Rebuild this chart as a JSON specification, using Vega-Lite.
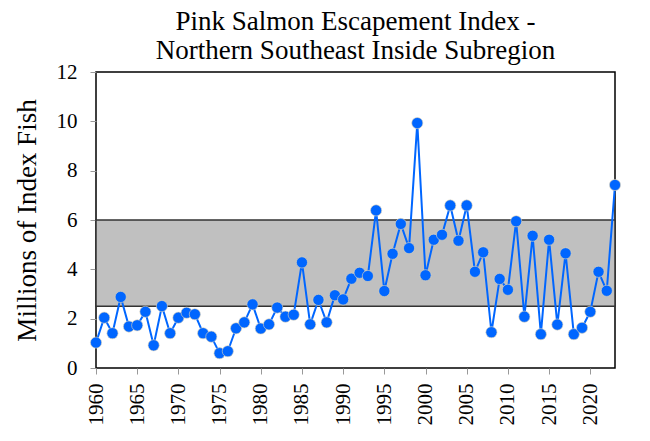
{
  "$schema": "https://vega.github.io/schema/vega-lite/v6.json",
  "width": 519,
  "height": 296,
  "autosize": {"type": "none"},
  "padding": {"left": 96, "top": 72, "right": 35, "bottom": 73},
  "background": "white",
  "config": {
    "font": "Liberation Serif",
    "view": {"stroke": "black", "strokeWidth": 1.5},
    "axis": {"grid": false, "domain": false, "tickColor": "#999999", "tickSize": 6, "labelColor": "black", "titleColor": "black", "labelFont": "Liberation Serif", "titleFont": "Liberation Serif", "titleFontWeight": "normal"}
  },
  "title": {
    "text": ["Pink Salmon Escapement Index -", "Northern Southeast Inside Subregion"],
    "font": "Liberation Serif",
    "fontSize": 27,
    "fontWeight": "normal",
    "lineHeight": 29,
    "anchor": "middle",
    "color": "black",
    "offset": 0,
    "dy": 4
  },
  "datasets": {
    "band": [{"start": 1960, "end": 2023, "lo": 2.5, "hi": 6}],
    "escapement": [
      {"year": 1960, "value": 1.03},
      {"year": 1961, "value": 2.04},
      {"year": 1962, "value": 1.41},
      {"year": 1963, "value": 2.88},
      {"year": 1964, "value": 1.68},
      {"year": 1965, "value": 1.73},
      {"year": 1966, "value": 2.28},
      {"year": 1967, "value": 0.92},
      {"year": 1968, "value": 2.51},
      {"year": 1969, "value": 1.41},
      {"year": 1970, "value": 2.04},
      {"year": 1971, "value": 2.24},
      {"year": 1972, "value": 2.18},
      {"year": 1973, "value": 1.41},
      {"year": 1974, "value": 1.27},
      {"year": 1975, "value": 0.6},
      {"year": 1976, "value": 0.68},
      {"year": 1977, "value": 1.61},
      {"year": 1978, "value": 1.85},
      {"year": 1979, "value": 2.58},
      {"year": 1980, "value": 1.6},
      {"year": 1981, "value": 1.77},
      {"year": 1982, "value": 2.45},
      {"year": 1983, "value": 2.08},
      {"year": 1984, "value": 2.16},
      {"year": 1985, "value": 4.28},
      {"year": 1986, "value": 1.77},
      {"year": 1987, "value": 2.76},
      {"year": 1988, "value": 1.85},
      {"year": 1989, "value": 2.95},
      {"year": 1990, "value": 2.78},
      {"year": 1991, "value": 3.62},
      {"year": 1992, "value": 3.86},
      {"year": 1993, "value": 3.73},
      {"year": 1994, "value": 6.39},
      {"year": 1995, "value": 3.12},
      {"year": 1996, "value": 4.63},
      {"year": 1997, "value": 5.84},
      {"year": 1998, "value": 4.86},
      {"year": 1999, "value": 9.93},
      {"year": 2000, "value": 3.76},
      {"year": 2001, "value": 5.2},
      {"year": 2002, "value": 5.4},
      {"year": 2003, "value": 6.59},
      {"year": 2004, "value": 5.16},
      {"year": 2005, "value": 6.59},
      {"year": 2006, "value": 3.9},
      {"year": 2007, "value": 4.69},
      {"year": 2008, "value": 1.45},
      {"year": 2009, "value": 3.61},
      {"year": 2010, "value": 3.17},
      {"year": 2011, "value": 5.95},
      {"year": 2012, "value": 2.08},
      {"year": 2013, "value": 5.36},
      {"year": 2014, "value": 1.37},
      {"year": 2015, "value": 5.2},
      {"year": 2016, "value": 1.76},
      {"year": 2017, "value": 4.65},
      {"year": 2018, "value": 1.37},
      {"year": 2019, "value": 1.63},
      {"year": 2020, "value": 2.28},
      {"year": 2021, "value": 3.9},
      {"year": 2022, "value": 3.13},
      {"year": 2023, "value": 7.42}
    ]
  },
  "layer": [
    {
      "data": {"name": "band"},
      "mark": {"type": "rect", "fill": "#c0c0c0", "stroke": "#333333", "strokeWidth": 1.5},
      "encoding": {
        "x": {"field": "start", "type": "quantitative", "scale": {"domain": [1960, 2023], "nice": false, "zero": false}},
        "x2": {"field": "end"},
        "y": {"field": "lo", "type": "quantitative", "scale": {"domain": [0, 12], "nice": false}},
        "y2": {"field": "hi"}
      }
    },
    {
      "data": {"name": "escapement"},
      "mark": {"type": "line", "color": "#0066ff", "strokeWidth": 2,
               "point": {"filled": true, "fill": "#0066ff", "size": 125, "stroke": "#e8d8b8", "strokeWidth": 0.6}},
      "encoding": {
        "x": {"field": "year", "type": "quantitative",
              "scale": {"domain": [1960, 2023], "nice": false, "zero": false},
              "axis": {"title": null, "values": [1960, 1965, 1970, 1975, 1980, 1985, 1990, 1995, 2000, 2005, 2010, 2015, 2020],
                       "format": "d", "labelAngle": -90, "labelFontSize": 21, "labelPadding": 9, "labelAlign": "right", "labelBaseline": "middle"}},
        "y": {"field": "value", "type": "quantitative",
              "scale": {"domain": [0, 12], "nice": false},
              "axis": {"title": "Millions of Index Fish", "values": [0, 2, 4, 6, 8, 10, 12], "labelFontSize": 21, "labelPadding": 13, "titleFontSize": 27, "titlePadding": 15}}
      }
    }
  ]
}
